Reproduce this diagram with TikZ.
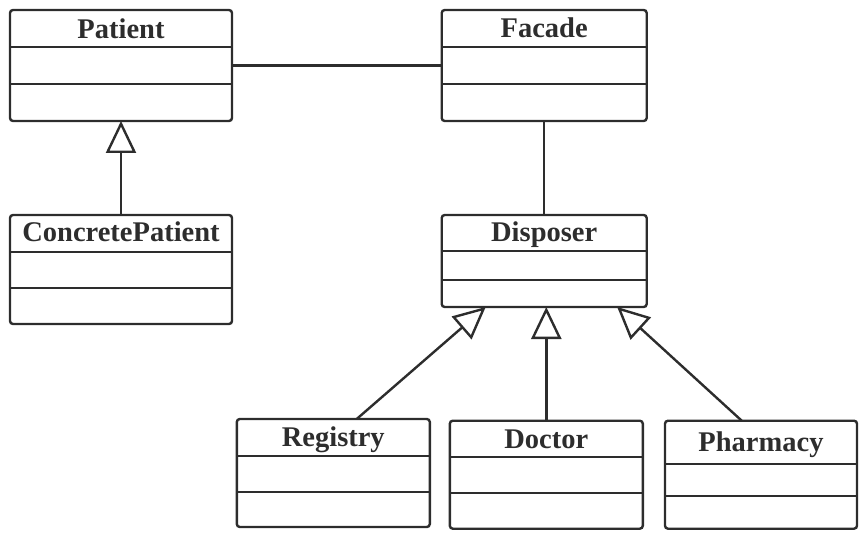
\documentclass[tikz,border=0pt]{standalone}
\usepackage{fontspec}
\setmainfont{Liberation Serif}
\usetikzlibrary{arrows.meta}
\definecolor{umlgray}{RGB}{45,45,45}
\begin{document}
\begin{tikzpicture}[x=1pt,y=-1pt,line width=2.4pt,draw=umlgray,
  class/.style={draw=umlgray,rounded corners=3pt,inner sep=0pt,outer sep=0pt},
  title/.style={anchor=base,text=umlgray,font=\bfseries\fontsize{28.5}{30}\selectfont},
  inherit/.style={-{Triangle[open,length=32pt,width=30pt]}}]
\useasboundingbox (0,0) rectangle (866,548);
% classes
\node[class,minimum width=222pt,minimum height=111pt] (patient) at (121,65.5) {};
\node[class,minimum width=205pt,minimum height=111pt] (facade) at (544.2,65.5) {};
\node[class,minimum width=222pt,minimum height=109pt] (concrete) at (121,269.5) {};
\node[class,minimum width=205pt,minimum height=92pt] (disposer) at (544.2,261) {};
\node[class,minimum width=193pt,minimum height=108pt] (registry) at (333.3,473) {};
\node[class,minimum width=193pt,minimum height=108pt] (doctor) at (546.3,474.7) {};
\node[class,minimum width=192pt,minimum height=108pt] (pharmacy) at (761,474.7) {};
% titles
\node[title] (patientname) at (121,38.3) {Patient};
\node[title] (facadename) at (544.2,38) {Facade};
\node[title] (concretename) at (121,241.7) {ConcretePatient};
\node[title] (disposername) at (544.2,241.7) {Disposer};
\node[title] (registryname) at (333.3,446.7) {Registry};
\node[title] (doctorname) at (546.3,448) {Doctor};
\node[title] (pharmacyname) at (761,451.7) {Pharmacy};
% compartments
\draw (patient.west |- 0,47) -- (patient.east |- 0,47);
\draw (patient.west |- 0,84) -- (patient.east |- 0,84);
\draw (facade.west |- 0,47) -- (facade.east |- 0,47);
\draw (facade.west |- 0,84) -- (facade.east |- 0,84);
\draw (concrete.west |- 0,252) -- (concrete.east |- 0,252);
\draw (concrete.west |- 0,288) -- (concrete.east |- 0,288);
\draw (disposer.west |- 0,251) -- (disposer.east |- 0,251);
\draw (disposer.west |- 0,280) -- (disposer.east |- 0,280);
\draw (registry.west |- 0,456) -- (registry.east |- 0,456);
\draw (registry.west |- 0,492) -- (registry.east |- 0,492);
\draw (doctor.west |- 0,457) -- (doctor.east |- 0,457);
\draw (doctor.west |- 0,493) -- (doctor.east |- 0,493);
\draw (pharmacy.west |- 0,464) -- (pharmacy.east |- 0,464);
\draw (pharmacy.west |- 0,496) -- (pharmacy.east |- 0,496);
% relations
\draw (patient) -- (facade);
\draw (facade) -- (disposer);
\draw[inherit] (concrete) -- (patient);
\draw[inherit] ([xshift=23.4pt]registry.north) -- ([xshift=-58.5pt]disposer.south);
\draw[inherit] (doctor.north) -- (doctor.north |- disposer.south);
\draw[inherit] ([xshift=-19.3pt]pharmacy.north) -- ([xshift=73pt]disposer.south);
\end{tikzpicture}
\end{document}
